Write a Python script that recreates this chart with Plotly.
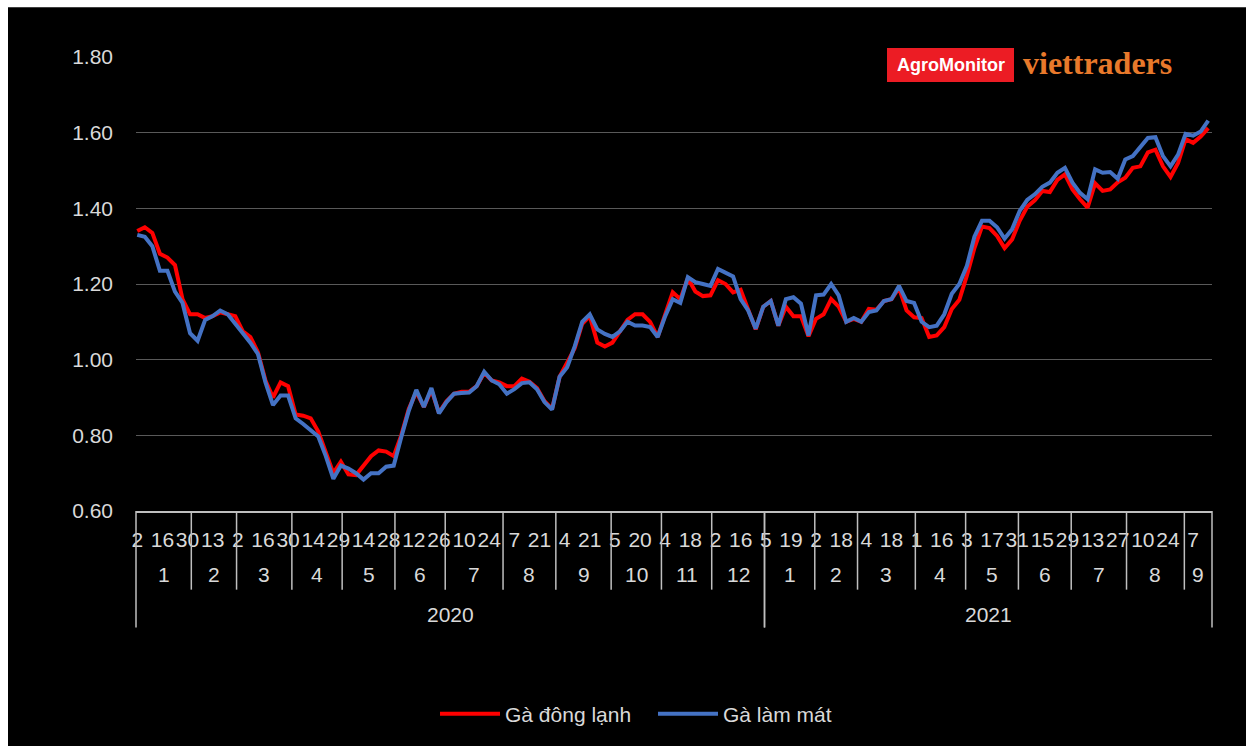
import plotly.graph_objects as go

# Trading days per month (Jan 2020 - Sep 2021)
months_2020 = ["1", "2", "3", "4", "5", "6", "7", "8", "9", "10", "11", "12"]
days_2020 = [22, 18, 22, 20, 21, 20, 23, 21, 22, 20, 20, 21]
months_2021 = ["1", "2", "3", "4", "5", "6", "7", "8", "9"]
days_2021 = [20, 17, 23, 20, 21, 21, 22, 23, 11]
years = ["2020", "2021"]

# Day of month printed under every 10th trading day
day_labels = ["2", "16", "30", "13", "2", "16", "30", "14", "29", "14", "28",
              "12", "26", "10", "24", "7", "21", "4", "21", "5", "20", "4",
              "18", "2", "16", "5", "19", "2", "18", "4", "18", "1", "16",
              "3", "17", "31", "15", "29", "13", "27", "10", "24", "7"]
label_every = 10

# Price index, one reading every 3rd trading day
sample_every = 3
ga_dong_lanh = [
    1.340, 1.350, 1.335, 1.280, 1.270, 1.250, 1.160, 1.120, 1.120, 1.110,
    1.115, 1.125, 1.120, 1.115, 1.075, 1.060, 1.020, 0.945, 0.900, 0.940,
    0.930, 0.855, 0.852, 0.845, 0.810, 0.755, 0.700, 0.730, 0.697, 0.695,
    0.720, 0.745, 0.760, 0.757, 0.745, 0.800, 0.870, 0.915, 0.875, 0.920,
    0.860, 0.890, 0.910, 0.915, 0.915, 0.930, 0.965, 0.945, 0.940, 0.930,
    0.930, 0.950, 0.942, 0.925, 0.890, 0.870, 0.955, 0.995, 1.030, 1.095,
    1.115, 1.045, 1.035, 1.045, 1.075, 1.105, 1.120, 1.120, 1.100, 1.060,
    1.120, 1.178, 1.160, 1.215, 1.180, 1.168, 1.170, 1.210, 1.200, 1.178,
    1.185, 1.130, 1.080, 1.140, 1.155, 1.090, 1.140, 1.115, 1.115, 1.062,
    1.108, 1.120, 1.160, 1.140, 1.100, 1.108, 1.100, 1.134, 1.132, 1.155,
    1.160, 1.190, 1.130, 1.112, 1.110, 1.060, 1.064, 1.086, 1.134, 1.158,
    1.222, 1.295, 1.352, 1.348, 1.327, 1.295, 1.318, 1.367, 1.404, 1.421,
    1.446, 1.443, 1.475, 1.490, 1.450, 1.424, 1.402, 1.466, 1.446, 1.450,
    1.469, 1.481, 1.507, 1.511, 1.548, 1.555, 1.511, 1.483, 1.520, 1.583,
    1.573, 1.590, 1.612,
]
ga_lam_mat = [
    1.330, 1.325, 1.300, 1.235, 1.235, 1.180, 1.150, 1.070, 1.050, 1.105,
    1.115, 1.130, 1.120, 1.095, 1.070, 1.045, 1.015, 0.940, 0.880, 0.905,
    0.905, 0.845, 0.830, 0.812, 0.797, 0.745, 0.685, 0.720, 0.712, 0.700,
    0.683, 0.700, 0.700, 0.717, 0.720, 0.795, 0.865, 0.920, 0.875, 0.925,
    0.858, 0.888, 0.910, 0.912, 0.913, 0.930, 0.968, 0.945, 0.935, 0.910,
    0.922, 0.938, 0.940, 0.922, 0.888, 0.868, 0.955, 0.980, 1.035, 1.100,
    1.120, 1.080, 1.068, 1.060, 1.075, 1.100, 1.090, 1.090, 1.086, 1.060,
    1.115, 1.160, 1.150, 1.218, 1.205, 1.200, 1.195, 1.240, 1.230, 1.220,
    1.160, 1.130, 1.082, 1.140, 1.155, 1.090, 1.160, 1.165, 1.148, 1.064,
    1.170, 1.172, 1.200, 1.170, 1.100, 1.110, 1.100, 1.126, 1.130, 1.155,
    1.160, 1.195, 1.155, 1.150, 1.100, 1.086, 1.090, 1.120, 1.174, 1.200,
    1.248, 1.325, 1.367, 1.367, 1.350, 1.320, 1.345, 1.393, 1.422, 1.437,
    1.457, 1.468, 1.494, 1.507, 1.468, 1.441, 1.424, 1.503, 1.494, 1.496,
    1.478, 1.529, 1.538, 1.564, 1.586, 1.588, 1.538, 1.511, 1.542, 1.597,
    1.592, 1.603, 1.632,
]

FONT = "Liberation Sans, Arial, sans-serif"
TEXT = "#d9d9d9"
AXIS = "#bfbfbf"
FS = 21

n_days = sum(days_2020) + sum(days_2021)
x_samples = list(range(0, n_days, sample_every))[:len(ga_dong_lanh)]

fig = go.Figure()
fig.add_trace(go.Scatter(x=x_samples, y=ga_dong_lanh, mode="lines", name="Gà đông lạnh",
                         line=dict(color="#ff0000", width=4)))
fig.add_trace(go.Scatter(x=x_samples, y=ga_lam_mat, mode="lines", name="Gà làm mát",
                         line=dict(color="#4472c4", width=4)))

# Paper-y levels (in units of the plot height) for the multi-level category axis
PLOT_H = 456.0
def py(px_below_axis):
    return -px_below_axis / PLOT_H

shapes = []
annotations = []

# Month and year dividers + labels
year_blocks = [(years[0], months_2020, days_2020), (years[1], months_2021, days_2021)]
start = 0
for yr, mlist, dlist in year_blocks:
    year_start = start
    for m, d in zip(mlist, dlist):
        if start != year_start:
            shapes.append(dict(type="line", xref="paper", yref="paper",
                               x0=start / n_days, x1=start / n_days, y0=0, y1=py(79),
                               line=dict(color=AXIS, width=1.5)))
        annotations.append(dict(text=m, x=start + d / 2 - 0.5, xref="x", y=py(64), yref="paper",
                                showarrow=False, yanchor="middle",
                                font=dict(family=FONT, size=FS, color=TEXT)))
        start += d
    annotations.append(dict(text=yr, x=(year_start + start) / 2 - 0.5, xref="x", y=py(104),
                            yref="paper", showarrow=False, yanchor="middle",
                            font=dict(family=FONT, size=FS, color=TEXT)))
    for edge in (year_start, start):
        shapes.append(dict(type="line", xref="paper", yref="paper",
                           x0=edge / n_days, x1=edge / n_days, y0=0, y1=py(117),
                           line=dict(color=AXIS, width=1.5)))

# Brand marks in the top-right corner
shapes.append(dict(type="rect", xref="paper", yref="paper",
                   x0=(887 - 136) / 1076, x1=(1014 - 136) / 1076,
                   y0=(513 - 82) / PLOT_H, y1=(513 - 48) / PLOT_H,
                   fillcolor="#ec1c24", line=dict(width=0), layer="above"))
annotations.append(dict(text="<b>AgroMonitor</b>", xref="paper", yref="paper",
                        x=(950.5 - 136) / 1076, y=(513 - 65) / PLOT_H,
                        showarrow=False, xanchor="center", yanchor="middle",
                        font=dict(family=FONT, size=18, color="#ffffff")))
annotations.append(dict(text="<b>viettraders</b>", xref="paper", yref="paper",
                        x=(1097 - 136) / 1076, y=(513 - 63) / PLOT_H,
                        showarrow=False, xanchor="center", yanchor="middle",
                        font=dict(family="Liberation Serif, Times New Roman, serif",
                                  size=32, color="#e8792b")))

# White frame strips on the left and top edges
shapes.append(dict(type="rect", xref="paper", yref="paper",
                   x0=-0.2, x1=(8 - 136) / 1076, y0=-0.7, y1=1.2,
                   fillcolor="#ffffff", line=dict(width=0), layer="above"))
shapes.append(dict(type="rect", xref="paper", yref="paper",
                   x0=-0.2, x1=1.2, y0=(513 - 7) / PLOT_H, y1=1.2,
                   fillcolor="#ffffff", line=dict(width=0), layer="above"))

fig.update_layout(
    width=1246, height=746,
    margin=dict(l=136, r=34, t=57, b=233),
    paper_bgcolor="#000000", plot_bgcolor="#000000",
    font=dict(family=FONT, size=FS, color=TEXT),
    showlegend=True,
    legend=dict(orientation="h", x=(443 - 136 - 8) / 1076, xanchor="left",
                y=py(204), yanchor="middle", font=dict(family=FONT, size=FS, color=TEXT),
                bgcolor="rgba(0,0,0,0)", itemwidth=60, entrywidth=143),
    xaxis=dict(range=[-0.5, n_days - 0.5], showgrid=False, zeroline=False,
               tickmode="array", tickvals=list(range(0, n_days, label_every))[:len(day_labels)],
               ticktext=day_labels, tickangle=0, ticks="", ticklabelstandoff=9,
               ticklabeloverflow="allow",
               tickfont=dict(family=FONT, size=FS, color=TEXT),
               showline=True, linecolor=AXIS, linewidth=1.5, fixedrange=True),
    yaxis=dict(range=[0.6, 1.8], tickmode="array",
               tickvals=[0.6, 0.8, 1.0, 1.2, 1.4, 1.6, 1.8], tickformat=".2f",
               showgrid=True, gridcolor="#595959", gridwidth=1, zeroline=False,
               ticks="", ticklabelstandoff=22,
               tickfont=dict(family=FONT, size=FS, color=TEXT), fixedrange=True),
    shapes=shapes,
    annotations=annotations,
)

fig.write_html("out.html")
